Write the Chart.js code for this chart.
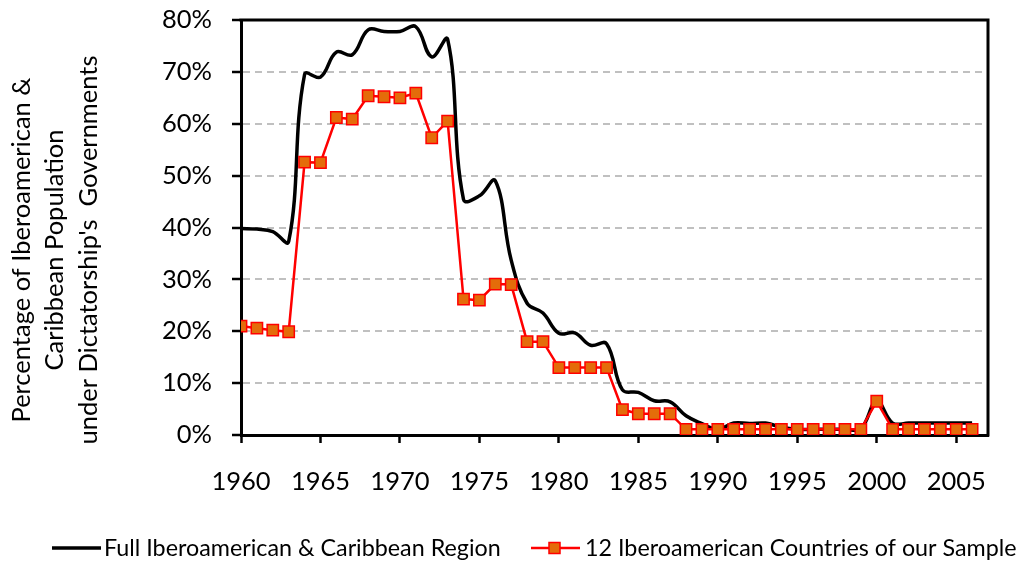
<!DOCTYPE html>
<html>
<head>
<meta charset="utf-8">
<script src="https://cdn.jsdelivr.net/npm/chart.js@4.4.1/dist/chart.umd.min.js"></script>
<style>
html,body{margin:0;padding:0;background:#ffffff;}
#wrap{width:1017px;height:561px;position:relative;}
</style>
</head>
<body>
<div id="wrap"><canvas id="c" width="1017" height="561"></canvas></div>
<script>
const years = [1960,1961,1962,1963,1964,1965,1966,1967,1968,1969,
               1970,1971,1972,1973,1974,1975,1976,1977,1978,1979,
               1980,1981,1982,1983,1984,1985,1986,1987,1988,1989,
               1990,1991,1992,1993,1994,1995,1996,1997,1998,1999,
               2000,2001,2002,2003,2004,2005,2006];
const fullRegion = [39.8,39.7,39.2,37.3,69.5,69.0,73.8,73.3,78.1,77.8,
                    77.8,78.7,72.9,76.3,45.4,46.1,49.0,33.7,25.4,23.5,
                    19.6,19.7,17.3,17.6,8.7,8.2,6.6,6.4,3.7,2.2,
                    1.1,2.3,2.2,2.3,1.5,1.1,1.1,1.1,1.1,1.2,
                    6.5,2.3,2.3,2.3,2.3,2.3,2.3];
const sample12 = [21.0,20.6,20.2,19.9,52.6,52.5,61.2,60.9,65.4,65.2,
                  65.0,65.9,57.3,60.5,26.2,26.0,29.1,29.0,18.0,18.0,
                  13.0,13.0,13.0,13.0,4.9,4.1,4.1,4.1,1.1,1.1,
                  1.1,1.1,1.1,1.1,1.1,1.1,1.1,1.1,1.1,1.1,
                  6.5,1.1,1.1,1.1,1.1,1.1,1.1];
const xTickValues = [1960,1965,1970,1975,1980,1985,1990,1995,2000,2005];
const yTickValues = [0,10,20,30,40,50,60,70,80];
const seriesNames = ['Full Iberoamerican & Caribbean Region','12 Iberoamerican Countries of our Sample'];
const yTitleLines = ['Percentage of Iberoamerican &','Caribbean Population',"under Dictatorship's  Governments"];

const FONT = 'Lato, "Open Sans", sans-serif';
const ORANGE = '#E46C0A';
const RED = '#FF0000';

function toPoints(vals){ return years.map((y,i)=>({x:y,y:vals[i]})); }

const decor = {
  id:'decor',
  afterDraw(chart){
    const ctx = chart.ctx;
    const a = chart.chartArea;
    ctx.save();
    // top and right frame
    ctx.strokeStyle = '#000';
    ctx.lineWidth = 3;
    ctx.beginPath();
    ctx.moveTo(a.left-1.5, a.top);
    ctx.lineTo(a.right, a.top);
    ctx.lineTo(a.right, a.bottom+1.5);
    ctx.stroke();
    // y title
    ctx.fillStyle = '#000';
    ctx.font = '25.5px ' + FONT;
    ctx.textAlign = 'center';
    ctx.textBaseline = 'middle';
    const xs = [22,55,88.5];
    yTitleLines.forEach((t,i)=>{
      ctx.save();
      ctx.translate(xs[i], 250);
      ctx.rotate(-Math.PI/2);
      ctx.fillText(t,0,0);
      ctx.restore();
    });
    // legend
    const ly = 548;
    ctx.textAlign = 'left';
    ctx.font = '23.3px ' + FONT;
    ctx.strokeStyle = '#000';
    ctx.lineWidth = 3.5;
    ctx.beginPath(); ctx.moveTo(52,ly); ctx.lineTo(101,ly); ctx.stroke();
    ctx.fillText(seriesNames[0],104,ly);
    ctx.strokeStyle = RED;
    ctx.lineWidth = 2.5;
    ctx.beginPath(); ctx.moveTo(531,ly); ctx.lineTo(580,ly); ctx.stroke();
    ctx.fillStyle = ORANGE;
    ctx.lineWidth = 1.5;
    ctx.fillRect(549,ly-5.5,11,11);
    ctx.strokeRect(549,ly-5.5,11,11);
    ctx.fillStyle = '#000';
    ctx.fillText(seriesNames[1],585,ly);
    ctx.restore();
  }
};

new Chart(document.getElementById('c'), {
  type:'line',
  data:{
    datasets:[
      {
        label: seriesNames[1],
        data: toPoints(sample12),
        borderColor: RED,
        borderWidth: 2.5,
        backgroundColor: ORANGE,
        pointStyle:'rect',
        pointRadius: 8,
        pointBorderColor: RED,
        pointBorderWidth: 1.5,
        pointBackgroundColor: ORANGE,
        tension: 0,
        order: 1
      },
      {
        label: seriesNames[0],
        data: toPoints(fullRegion),
        borderColor: '#000',
        borderWidth: 3.5,
        pointRadius: 0,
        tension: 0.4,
        cubicInterpolationMode: 'default',
        order: 2
      }
    ]
  },
  options:{
    responsive:false,
    animation:false,
    devicePixelRatio:1,
    layout:{padding:{left:0,right:29,top:20,bottom:0}},
    plugins:{legend:{display:false},tooltip:{enabled:false},title:{display:false}},
    scales:{
      x:{
        type:'linear',
        min:1960, max:2007,
        afterBuildTicks(scale){ scale.ticks = xTickValues.map(v=>({value:v})); },
        afterFit(scale){ scale.height = 126; scale.paddingLeft = 0; scale.paddingRight = 0; },
        grid:{drawOnChartArea:false, drawTicks:true, tickLength:8, tickColor:'#000', tickWidth:2.5},
        border:{display:true,color:'#000',width:3},
        ticks:{font:{family:FONT,size:25.5},color:'#000',padding:23,maxRotation:0,autoSkip:false,callback:v=>String(v)}
      },
      y:{
        min:0, max:80,
        afterBuildTicks(scale){ scale.ticks = yTickValues.map(v=>({value:v})); },
        afterFit(scale){ scale.width = 241; scale.paddingTop = 0; scale.paddingBottom = 0; },
        grid:{
          color:(c)=> (c.tick && (c.tick.value===0 || c.tick.value===80)) ? 'rgba(0,0,0,0)' : '#C0C0C0',
          lineWidth:2,
          tickLength:9, tickColor:'#000', tickWidth:2.5, tickBorderDash:[]
        },
        border:{display:true,color:'#000',width:3,dash:[7,5]},
        ticks:{font:{family:FONT,size:25.5},color:'#000',padding:20,callback:v=>v+'%'}
      }
    }
  },
  plugins:[decor]
});
</script>
</body>
</html>
